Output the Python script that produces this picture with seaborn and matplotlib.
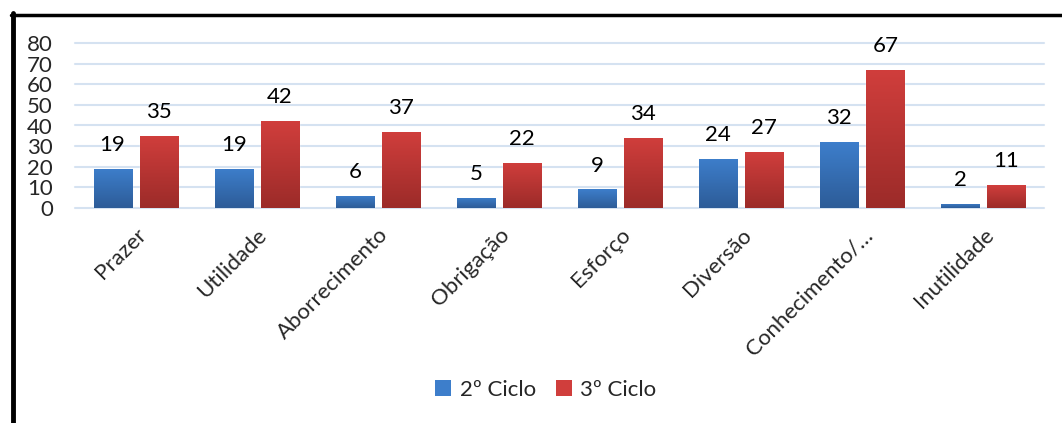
import numpy as np
import pandas as pd
import matplotlib
matplotlib.use("Agg")
import matplotlib.pyplot as plt
import seaborn as sns
from matplotlib.lines import Line2D
from matplotlib.patches import Patch
from matplotlib.colors import LinearSegmentedColormap

categories = ["Prazer", "Utilidade", "Aborrecimento", "Obrigação", "Esforço",
              "Diversão", "Conhecimento/…", "Inutilidade"]
ciclo2 = [19, 19, 6, 5, 9, 24, 32, 2]
ciclo3 = [35, 42, 37, 22, 34, 27, 67, 11]
series_names = ["2º Ciclo", "3º Ciclo"]
yticks = [0, 10, 20, 30, 40, 50, 60, 70, 80]

df = pd.DataFrame({
    "cat": categories * 2,
    "val": ciclo2 + ciclo3,
    "serie": [series_names[0]] * len(categories) + [series_names[1]] * len(categories),
})

sns.set_theme(style="white")
plt.rcParams["font.family"] = ["Lato", "DejaVu Sans"]
FS = 16

fig = plt.figure(figsize=(10.62, 4.23), dpi=100)
ax = fig.add_axes([75 / 1062, 215 / 423, (1044 - 75) / 1062, 165 / 423])

top_cols = {"2º Ciclo": "#3d7ecb", "3º Ciclo": "#d03e3c"}
bot_cols = {"2º Ciclo": "#2d5c98", "3º Ciclo": "#9c2b29"}

sns.barplot(data=df, x="cat", y="val", hue="serie", order=categories,
            hue_order=series_names, palette=top_cols, width=0.76, gap=0.174,
            ax=ax, legend=False, saturation=1)

# gradient fill on bars
for bars, name in zip(ax.containers, series_names):
    cmap = LinearSegmentedColormap.from_list(name, [bot_cols[name], top_cols[name]])
    grad = np.linspace(0, 1, 64).reshape(-1, 1)
    for p in bars:
        x0, y0 = p.get_x(), p.get_y()
        w, h = p.get_width(), p.get_height()
        im = ax.imshow(grad, extent=[x0, x0 + w, y0, y0 + h], origin="lower",
                       aspect="auto", cmap=cmap, zorder=3)
        im.set_clip_path(p)
        p.set_zorder(2)
    for p, v in zip(bars, bars.datavalues):
        ax.annotate(f"{v:g}", (p.get_x() + p.get_width() / 2, v),
                    xytext=(0, 10), textcoords="offset points",
                    ha="center", va="bottom", fontsize=FS, color="black")

ax.set_xlim(-0.5, len(categories) - 0.5)
ax.set_ylim(0, 80)
ax.set_yticks(yticks)
ax.set_yticklabels([str(t) for t in yticks], fontsize=FS)
ax.yaxis.grid(True, color="#d5e2f1", linewidth=1.5, zorder=0)
ax.set_axisbelow(True)
for s in ax.spines.values():
    s.set_visible(False)
ax.tick_params(axis="both", length=0)
ax.tick_params(axis="y", pad=16)
ax.set_xlabel("")
ax.set_ylabel("")
ax.set_xticks(range(len(categories)))
ax.set_xticklabels(categories, rotation=45, ha="right", rotation_mode="anchor",
                   fontsize=FS)
ax.tick_params(axis="x", pad=12)
for g in ax.get_ygridlines():
    g.set_clip_on(False)

handles = [Patch(facecolor=top_cols[n], edgecolor="none") for n in series_names]
fig.legend(handles, series_names, loc="center", bbox_to_anchor=(546 / 1062, 1 - 390 / 423),
           ncol=2, frameon=False, fontsize=FS, handlelength=0.7, handleheight=0.7,
           handletextpad=0.4, columnspacing=0.9)

# black border (left and top)
fig.add_artist(Line2D([12.5 / 1062, 12.5 / 1062], [0, 1 - 13 / 423], color="black",
                      linewidth=3.5, transform=fig.transFigure))
fig.add_artist(Line2D([11 / 1062, 1], [1 - 15 / 423, 1 - 15 / 423], color="black",
                      linewidth=2.5, transform=fig.transFigure))

fig.savefig("out.png", dpi=100, facecolor="white")
